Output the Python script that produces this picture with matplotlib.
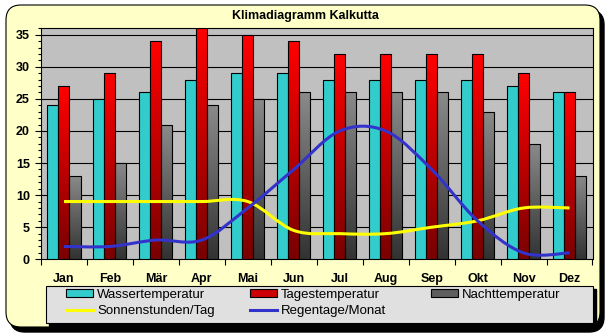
import matplotlib
matplotlib.use("Agg")
import matplotlib.pyplot as plt
import numpy as np
from matplotlib.patches import FancyBboxPatch, Rectangle, PathPatch, Patch
from matplotlib.path import Path
from matplotlib.lines import Line2D
from matplotlib.colors import LinearSegmentedColormap

plt.rcParams["font.family"] = ["Liberation Sans", "DejaVu Sans"]

# --- data ---
months = ["Jan", "Feb", "Mär", "Apr", "Mai", "Jun", "Jul", "Aug", "Sep", "Okt", "Nov", "Dez"]
wasser = [24, 25, 26, 28, 29, 29, 28, 28, 28, 28, 27, 26]
tages = [27, 29, 34, 36, 35, 34, 32, 32, 32, 32, 29, 26]
nacht = [13, 15, 21, 24, 25, 26, 26, 26, 26, 23, 18, 13]
sonne = [9, 9, 9, 9, 9, 4.5, 4, 4, 5, 6, 8, 8]
regen = [2, 2, 3, 3, 8, 14, 20, 20, 14, 6, 1, 1]

W, H, DPI = 609, 336, 100

CYAN = "#33CCCC"
YELLOW = "#FFFF00"
BLUE = "#3333CC"
red_cmap = LinearSegmentedColormap.from_list("red", ["#7A0000", "#FF0000"])
grey_cmap = LinearSegmentedColormap.from_list("grey", ["#333333", "#8A8A8A"])


def fig_rect(x0, y0, x1, y1):
    """pixel box (top-left origin) -> figure fraction [l, b, w, h]"""
    return [x0 / W, 1 - y1 / H, (x1 - x0) / W, (y1 - y0) / H]


def smooth_path(xs, ys):
    # Excel style smoothed line: cubic bezier through every point
    pts = np.column_stack([xs, ys]).astype(float)
    n = len(pts)
    verts = [pts[0]]
    codes = [Path.MOVETO]
    for i in range(n - 1):
        p0 = pts[max(i - 1, 0)]
        p1 = pts[i]
        p2 = pts[i + 1]
        p3 = pts[min(i + 2, n - 1)]
        verts += [p1 + (p2 - p0) / 6, p2 - (p3 - p1) / 6, p2]
        codes += [Path.CURVE4] * 3
    return Path(verts, codes)


fig = plt.figure(figsize=(W / DPI, H / DPI), dpi=DPI)
fig.patch.set_facecolor("white")

# rounded chart area with black shadow
tr = fig.dpi_scale_trans
shadow = FancyBboxPatch((10 / DPI, (H - 332) / DPI), 594 / DPI, 322 / DPI,
                        boxstyle="round,pad=0,rounding_size=0.15",
                        facecolor="black", edgecolor="black", transform=tr, zorder=-3)
bg = FancyBboxPatch((6 / DPI, (H - 327) / DPI), 594 / DPI, 322 / DPI,
                    boxstyle="round,pad=0,rounding_size=0.15",
                    facecolor="#FFFFC8", edgecolor="black", linewidth=0.8,
                    transform=tr, zorder=-2)
fig.add_artist(shadow)
fig.add_artist(bg)

fig.text(305 / W, 1 - 16 / H, "Klimadiagramm Kalkutta", ha="center", va="center",
         fontsize=9, fontweight="bold")

ax = fig.add_axes(fig_rect(41, 28.3, 592.5, 259.3))
ax.set_facecolor("#C0C0C0")

x = np.arange(len(months))
bw = 0.24

b_w = ax.bar(x - bw, wasser, bw, color=CYAN, edgecolor="black", linewidth=0.8, zorder=3)
b_t = ax.bar(x, tages, bw, color="none", edgecolor="black", linewidth=0.8, zorder=4)
b_n = ax.bar(x + bw, nacht, bw, color="none", edgecolor="black", linewidth=0.8, zorder=4)

grad = np.linspace(0, 1, 64).reshape(-1, 1)
for bars, cmap in ((b_t, red_cmap), (b_n, grey_cmap)):
    for b in bars:
        x0, h = b.get_x(), b.get_height()
        im = ax.imshow(grad, extent=[x0, x0 + b.get_width(), 0, h], origin="lower",
                       cmap=cmap, aspect="auto", zorder=3, interpolation="bilinear")
        im.set_clip_path(b)

ax.add_patch(PathPatch(smooth_path(x, sonne), fill=False, edgecolor=YELLOW,
                       linewidth=2.2, zorder=5, capstyle="butt"))
ax.add_patch(PathPatch(smooth_path(x, regen), fill=False, edgecolor=BLUE,
                       linewidth=2.2, zorder=6, capstyle="butt"))

ax.set_xlim(-0.5, len(months) - 0.5)
ax.set_ylim(0, 36)
ax.set_aspect("auto")

ax.set_yticks(range(0, 36, 5))
ax.set_yticks(range(0, 37), minor=True)
for y in range(5, 36, 5):
    ax.axhline(y, color="black", linewidth=0.8, zorder=1)

ax.set_xticks(np.arange(-0.5, len(months)))
ax.set_xticklabels([])
ax.set_xticks(x, minor=True)
ax.set_xticklabels(months, minor=True)
ax.tick_params(axis="x", which="major", direction="out", length=4, width=0.8)
ax.tick_params(axis="x", which="minor", length=0, pad=10, labelsize=9)
ax.tick_params(axis="y", which="major", direction="out", length=4, width=0.8, pad=4,
               labelsize=9)
ax.tick_params(axis="y", which="minor", direction="out", length=2, width=0.8)
for lab in ax.get_xticklabels(minor=True) + ax.get_yticklabels():
    lab.set_fontweight("bold")
for s in ax.spines.values():
    s.set_linewidth(0.8)
    s.set_color("black")

# legend box with shadow
lx0, ly0, lx1, ly1 = 46, 286, 593, 323
fig.add_artist(Rectangle((lx0 + 3, H - ly1 - 3), lx1 - lx0, ly1 - ly0, transform=None,
                         facecolor="black", edgecolor="black", zorder=1))
fig.add_artist(Rectangle((lx0, H - ly1), lx1 - lx0, ly1 - ly0, transform=None,
                         facecolor="#E0E0E0", edgecolor="black", linewidth=0.8, zorder=2))

h_wasser = Patch(facecolor=CYAN, edgecolor="black", linewidth=0.8)
h_sonne = Line2D([], [], color=YELLOW, linewidth=2.2)
h_tages = Patch(facecolor="#CC0000", edgecolor="black", linewidth=0.8)
h_regen = Line2D([], [], color=BLUE, linewidth=2.2)
h_nacht = Patch(facecolor="#5E5E5E", edgecolor="black", linewidth=0.8)

columns = [
    (66, [h_wasser, h_sonne], ["Wassertemperatur", "Sonnenstunden/Tag"]),
    (250, [h_tages, h_regen], ["Tagestemperatur", "Regentage/Monat"]),
    (431, [h_nacht], ["Nachttemperatur"]),
]
for col_x, hs, ls in columns:
    leg = fig.legend(hs, ls, loc="upper left",
                     bbox_to_anchor=(col_x / W, 1 - 289 / H), frameon=False, fontsize=9.5,
                     borderpad=0, borderaxespad=0, handlelength=2.05, handleheight=0.55,
                     handletextpad=0.3, labelspacing=0.3)
    leg.set_zorder(5)

fig.savefig("out.png", dpi=DPI)
